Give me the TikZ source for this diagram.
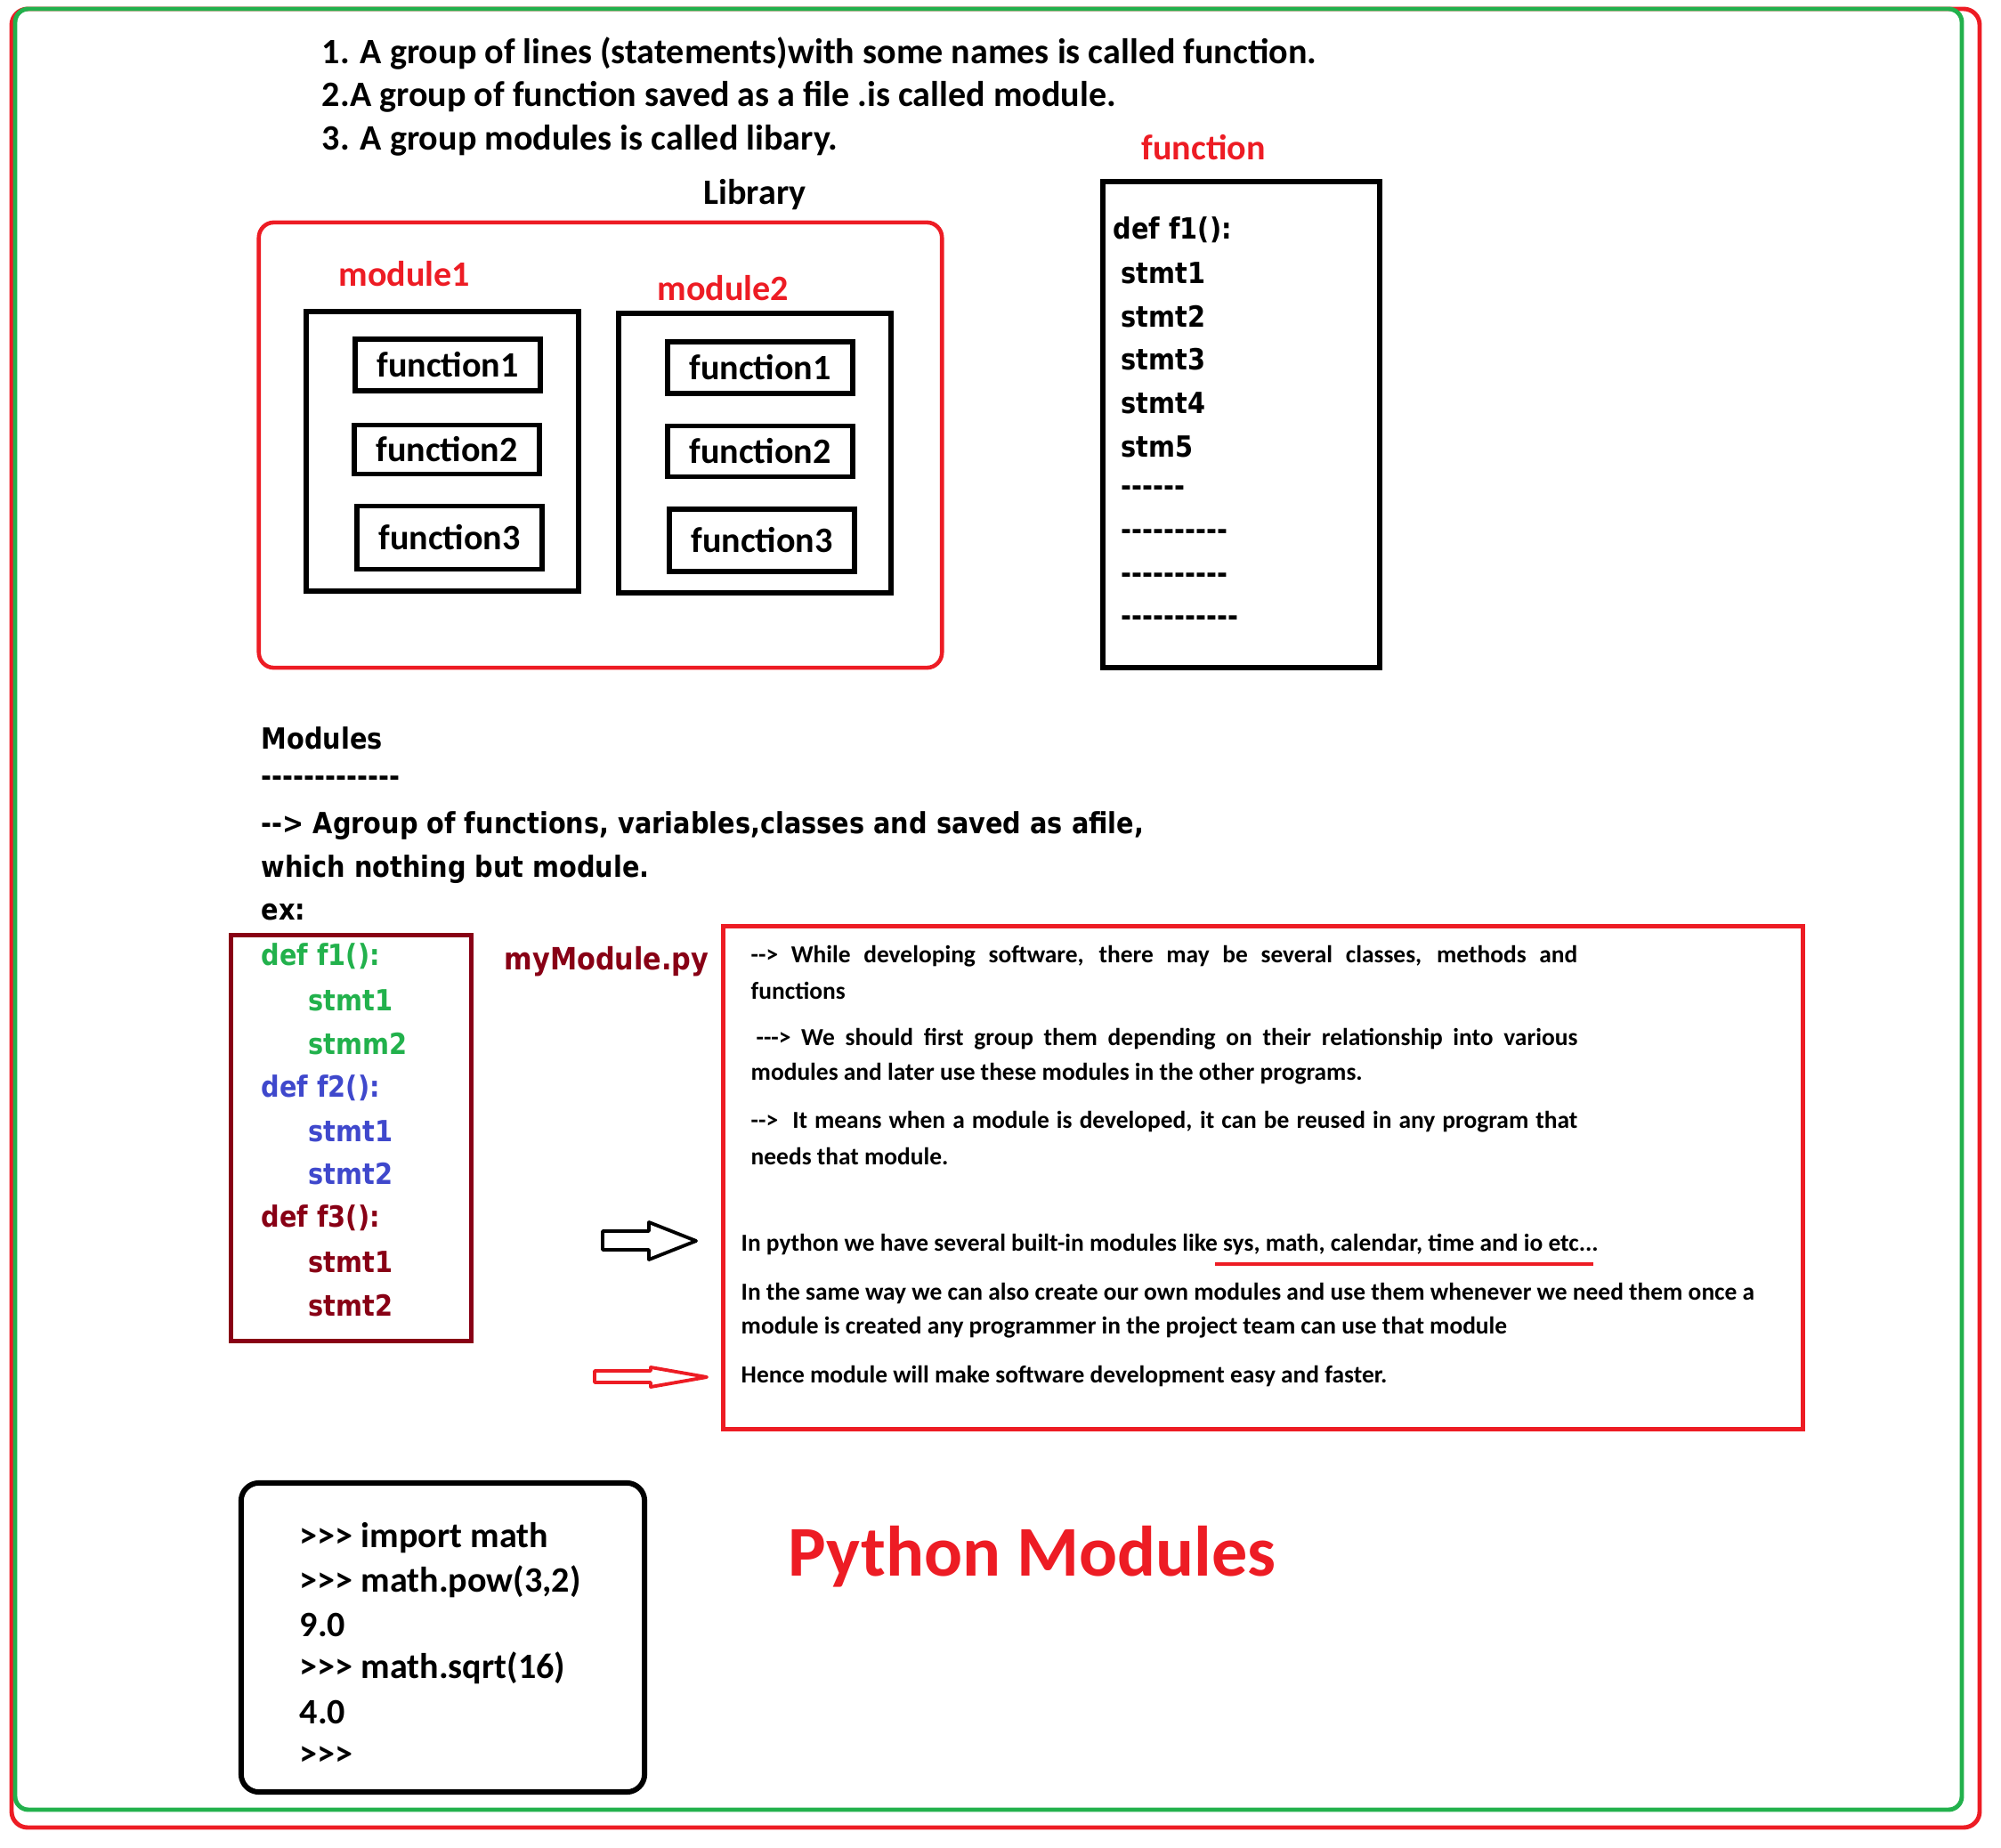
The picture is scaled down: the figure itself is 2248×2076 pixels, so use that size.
\documentclass[tikz,border=0pt]{standalone}
\usepackage{fontspec}
\setmainfont{Carlito}[Ligatures=TeXOff]
\newfontfamily\widefont{DejaVu Sans}[Ligatures=TeXOff, FakeStretch=0.88]
\usepackage{tikz}

\newcommand\pxsize[1]{\fontsize{#1}{#1}\selectfont}

\begin{document}
\begin{tikzpicture}[x=0.01cm, y=-0.01cm,
    txt/.style={inner sep=0pt, anchor=west, font=\bfseries\pxsize{11.4pt}},
    code/.style={inner sep=0pt, anchor=west, font=\widefont\bfseries\pxsize{9.3pt}},
    note/.style={inner sep=0pt, anchor=west, font=\bfseries\pxsize{7.8pt}},
    fbox/.style={draw, line width=1.5pt, inner sep=0pt, minimum width=2.08cm, font=\bfseries\pxsize{11.4pt}},
    modbox/.style={draw, line width=1.6pt, minimum width=3.06cm, minimum height=3.14cm}]
    \definecolor{paintred}{RGB}{237,28,36}
    \definecolor{paintgreen}{RGB}{34,177,76}
    \definecolor{paintblue}{RGB}{63,72,204}
    \definecolor{maroon}{RGB}{136,0,21}

    \useasboundingbox (0,0) rectangle (2248,2076);

    % outer frames
    \draw[paintred, line width=1.4pt, rounded corners=0.18cm] (13,10) rectangle (2224,2053);
    \draw[paintgreen, line width=1.4pt, rounded corners=0.15cm] (17,10) rectangle (2204,2033);

    % definitions on top
    \node[txt] (def1) at (361,60) {1. A group of lines (statements)with some names is called function.};
    \node[txt] (def2) at (361,109) {2.A group of function saved as a file .is called module.};
    \node[txt] (def3) at (361,158) {3. A group modules is called libary.};

    % library
    \node[txt, anchor=center] (libname) at (848,219) {Library};
    \node[draw=paintred, line width=1.3pt, rounded corners=0.17cm, minimum width=7.67cm, minimum height=5cm] (lib) at (674.5,500) {};
    \node[txt, text=paintred] (mod1name) at (380,308) {module1};
    \node[txt, text=paintred] (mod2name) at (738,324) {module2};
    \node[modbox] (mod1) at (497,507) {};
    \node[modbox] (mod2) at (848,509) {};
    \node[fbox, minimum height=0.58cm] (m1f1) at (503,410) {function1};
    \node[fbox, minimum height=0.55cm] (m1f2) at (502,505) {function2};
    \node[fbox, minimum height=0.71cm] (m1f3) at (505,604) {function3};
    \node[fbox, minimum height=0.58cm] (m2f1) at (854,413) {function1};
    \node[fbox, minimum height=0.57cm] (m2f2) at (854,507) {function2};
    \node[fbox, minimum height=0.70cm] (m2f3) at (856,607) {function3};

    % one function
    \node[txt, text=paintred] (funcname) at (1282,166) {function};
    \node[draw, line width=1.6pt, minimum width=3.11cm, minimum height=5.46cm] (fdef) at (1394.5,477) {};
    \node[code] (fhead) at (1250,258) {def f1():};
    \node[code] (fl1) at (1259,307) {stmt1};
    \node[code] (fl2) at (1259,356) {stmt2};
    \node[code] (fl3) at (1259,404) {stmt3};
    \node[code] (fl4) at (1259,453) {stmt4};
    \node[code] (fl5) at (1259,502) {stm5};
    \node[code] (fl6) at (1259,552) {------};
    \node[code] (fl7) at (1259,601) {----------};
    \node[code] (fl8) at (1259,650) {----------};
    \node[code] (fl9) at (1259,698) {-----------};

    % modules text
    \node[code] (modhead) at (293,829) {Modules};
    \node[code] (modrule) at (293,878) {-------------};
    \node[code] (modl1) at (293,928) {--> Agroup of functions, variables,classes and saved as afile,};
    \node[code] (modl2) at (293,977) {which nothing but module.};
    \node[code] (modl3) at (293,1025) {ex:};

    % example module
    \node[draw=maroon, line width=1.4pt, minimum width=2.69cm, minimum height=4.55cm] (codebox) at (394.5,1278.5) {};
    \node[code, text=paintgreen] (c1) at (293,1074) {def f1():};
    \node[code, text=paintgreen] (c2) at (346,1124) {stmt1};
    \node[code, text=paintgreen] (c3) at (346,1173) {stmm2};
    \node[code, text=paintblue] (c4) at (293,1222) {def f2():};
    \node[code, text=paintblue] (c5) at (346,1271) {stmt1};
    \node[code, text=paintblue] (c6) at (346,1319) {stmt2};
    \node[code, text=maroon] (c7) at (293,1368) {def f3():};
    \node[code, text=maroon] (c8) at (346,1418) {stmt1};
    \node[code, text=maroon] (c9) at (346,1467) {stmt2};
    \node[code, text=maroon, font=\widefont\bfseries\pxsize{9.8pt}] (fname) at (566,1080) {myModule.py};

    % notes
    \node[draw=paintred, line width=1.4pt, minimum width=12.12cm, minimum height=5.64cm] (notes) at (1419,1323) {};
    \node[note] (n1) at (843,1074) {\makebox[9.28cm][s]{--> While developing software, there may be several classes, methods and}};
    \node[note] (n2) at (843,1113) {functions};
    \node[note] (n3) at (849,1167) {\makebox[9.22cm][s]{---> We should first group them depending on their relationship into various}};
    \node[note] (n4) at (843,1206) {modules and later use these modules in the other programs.};
    \node[note] (n5) at (843,1260) {\makebox[9.28cm][s]{--> \ It means when a module is developed, it can be reused in any program that}};
    \node[note] (n6) at (843,1299) {needs that module.};
    \node[note] (n7) at (832,1398) {In python we have several built-in modules like sys, math, calendar, time and io etc...};
    \draw[paintred, line width=1.4pt] (1365,1420) -- (1790,1420);
    \node[note] (n8) at (832,1453) {In the same way we can also create our own modules and use them whenever we need them once a};
    \node[note] (n9) at (832,1491) {module is created any programmer in the project team can use that module};
    \node[note] (n10) at (832,1546) {Hence module will make software development easy and faster.};

    % block arrows
    \draw[line width=1.1pt, line join=round] (677,1383) -- (729,1383) -- (729,1373) -- (782,1394) -- (729,1415) -- (729,1404) -- (677,1404) -- cycle;
    \draw[paintred, line width=1.1pt, line join=round] (668,1540) -- (731,1540) -- (731,1536) -- (794,1547) -- (731,1558) -- (731,1553) -- (668,1553) -- cycle;

    % console
    \node[draw, line width=1.7pt, rounded corners=0.2cm, minimum width=4.53cm, minimum height=3.47cm] (console) at (497.5,1839.5) {};
    \node[txt] (p1) at (336,1728) {>>> import math};
    \node[txt] (p2) at (336,1777) {>>> math.pow(3,2)};
    \node[txt] (p3) at (336,1825) {9.0};
    \node[txt] (p4) at (336,1874) {>>> math.sqrt(16)};
    \node[txt] (p5) at (336,1923) {4.0};
    \node[txt] (p6) at (336,1973) {>>>};

    \node[txt, text=paintred, font=\bfseries\pxsize{22.8pt}] (title) at (885,1749) {Python Modules};
\end{tikzpicture}
\end{document}
